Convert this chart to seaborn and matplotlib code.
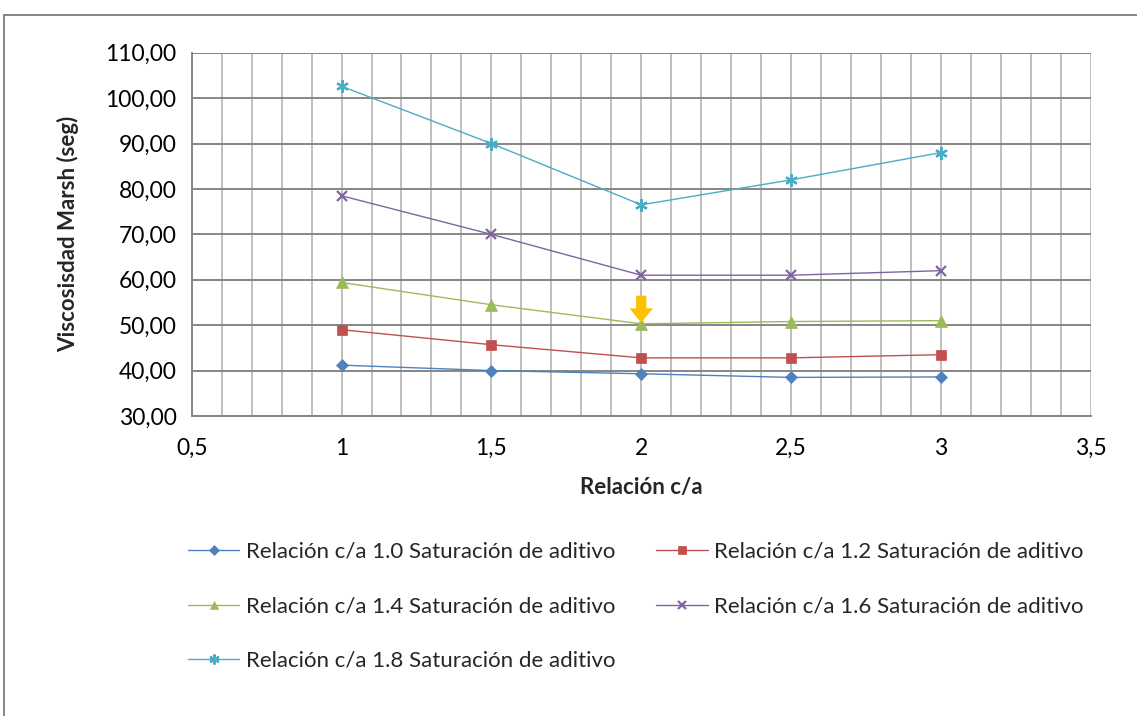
import numpy as np
import pandas as pd
import matplotlib
matplotlib.use("Agg")
import matplotlib.pyplot as plt
from matplotlib.ticker import MultipleLocator, FuncFormatter
from matplotlib.lines import Line2D
import seaborn as sns

# ---- data ----
ratio = [1.0, 1.5, 2.0, 2.5, 3.0]
sat_10 = [41.2, 40.0, 39.3, 38.5, 38.6]
sat_12 = [49.0, 45.7, 42.8, 42.8, 43.5]
sat_14 = [59.4, 54.5, 50.3, 50.8, 51.0]
sat_16 = [78.5, 70.0, 61.0, 61.0, 62.0]
sat_18 = [102.6, 90.0, 76.5, 82.0, 88.0]
labels = ["Relación c/a 1.0 Saturación de aditivo",
          "Relación c/a 1.2 Saturación de aditivo",
          "Relación c/a 1.4 Saturación de aditivo",
          "Relación c/a 1.6 Saturación de aditivo",
          "Relación c/a 1.8 Saturación de aditivo"]
series = [sat_10, sat_12, sat_14, sat_16, sat_18]
colors = ["#4F81BD", "#C0504D", "#9BBB59", "#8064A2", "#4BACC6"]
markers = ["D", "s", "^", "x", (6, 2, 0)]
msizes = [6.5, 7.5, 8, 7, 9]

sns.set_theme(style="white")
plt.rcParams['font.family'] = ['Lato', 'DejaVu Sans']

fig = plt.figure(figsize=(11.37, 7.16), dpi=100)
ax = fig.add_axes([0.1686, 0.419, 0.7907, 0.5074])

for vals, lab, c, m, ms in zip(series, labels, colors, markers, msizes):
    df = pd.DataFrame({"x": ratio, "y": vals})
    sns.lineplot(data=df, x="x", y="y", ax=ax, color=c, marker=m, markersize=ms,
                 markeredgecolor=c, markerfacecolor=c,
                 markeredgewidth=1.6 if (m == "x" or isinstance(m, tuple)) else 0.5,
                 linewidth=1.0, label=lab, legend=False, zorder=3)

# highlight arrow at the minimum of the 1.4 series
ax.arrow(ratio[2], sat_14[2] + 6.2, 0, -6.0, width=0.034, head_width=0.078,
         head_length=3.2, length_includes_head=True, color="#FFC000", zorder=4,
         linewidth=0)

ax.set_xlim(0.5, 3.5)
ax.set_ylim(30, 110)
ax.xaxis.set_major_locator(MultipleLocator(0.5))
ax.xaxis.set_minor_locator(MultipleLocator(0.1))
ax.yaxis.set_major_locator(MultipleLocator(10))

ax.xaxis.set_major_formatter(FuncFormatter(lambda v, p: ("%g" % v).replace(".", ",")))
ax.yaxis.set_major_formatter(FuncFormatter(lambda v, p: ("%.2f" % v).replace(".", ",")))

ax.grid(False)
ax.grid(True, which="minor", axis="x", color="#BFBFBF", linewidth=1.4, zorder=0)
ax.grid(True, which="major", axis="x", color="#BFBFBF", linewidth=1.4, zorder=0)
ax.grid(True, which="major", axis="y", color="#868686", linewidth=1.4, zorder=1)
ax.set_axisbelow(True)

for s in ["top", "right"]:
    ax.spines[s].set_visible(False)
for s in ["left", "bottom"]:
    ax.spines[s].set_color("#868686")
    ax.spines[s].set_linewidth(1.4)

ax.tick_params(axis="both", which="major", direction="out", length=5, width=1.2,
               color="#868686", labelsize=16.5, labelcolor="black")
ax.tick_params(axis="x", which="major", pad=11)
ax.tick_params(axis="y", which="major", pad=6)
ax.tick_params(axis="x", which="minor", length=0)

ax.set_xlabel("Relación c/a", fontsize=16, fontweight="bold", labelpad=13)
ax.set_ylabel("Viscosisdad Marsh (seg)", fontsize=16, fontweight="bold", labelpad=19)

handles, labs = ax.get_legend_handles_labels()
order = [0, 2, 4, 1, 3]  # row-major reading order in two columns
fig.legend([handles[i] for i in order], [labs[i] for i in order],
           loc="upper left", bbox_to_anchor=(188 / 1137, 1 - 542 / 716),
           ncol=2, frameon=False, fontsize=16, handlelength=2.3, handletextpad=0.3,
           columnspacing=1.85, labelspacing=1.55, borderpad=0, borderaxespad=0,
           markerscale=0.8)

# outer chart border
fig.add_artist(Line2D([4 / 1137, 1.0], [1 - 15 / 716, 1 - 15 / 716],
                      transform=fig.transFigure, color="#868686", linewidth=1.4))
fig.add_artist(Line2D([4 / 1137, 4 / 1137], [0.0, 1 - 15 / 716],
                      transform=fig.transFigure, color="#868686", linewidth=1.4))

fig.savefig("out.png", dpi=100)
